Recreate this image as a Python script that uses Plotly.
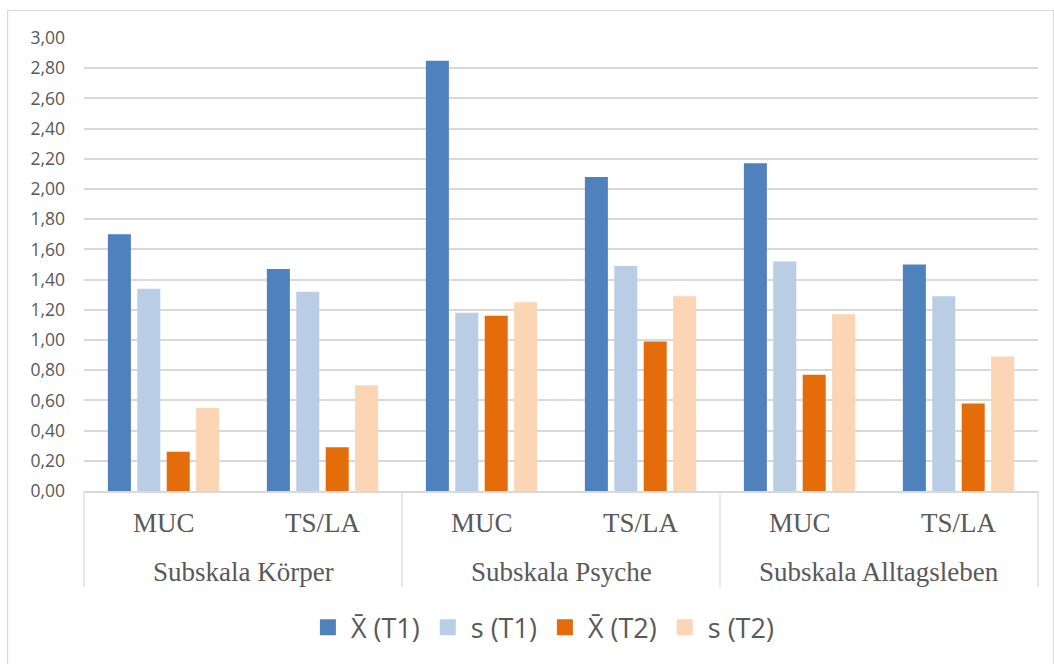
import plotly.graph_objects as go

# Subscales (outer level) and sites (inner level)
subscales = ["Subskala Körper", "Subskala Körper",
             "Subskala Psyche", "Subskala Psyche",
             "Subskala Alltagsleben", "Subskala Alltagsleben"]
sites = ["MUC", "TS/LA", "MUC", "TS/LA", "MUC", "TS/LA"]

# Means and standard deviations at T1 and T2
mean_t1 = [1.70, 1.47, 2.85, 2.08, 2.17, 1.50]
sd_t1 = [1.34, 1.32, 1.18, 1.49, 1.52, 1.29]
mean_t2 = [0.26, 0.29, 1.16, 0.99, 0.77, 0.58]
sd_t2 = [0.55, 0.70, 1.25, 1.29, 1.17, 0.89]

series_names = ["X\u0304 (T1)", "s (T1)", "X\u0304 (T2)", "s (T2)"]
series_values = [mean_t1, sd_t1, mean_t2, sd_t2]
series_colors = ["#4F81BD", "#B9CDE5", "#E46C0A", "#FCD5B5"]

GRID = "#D9D9D9"
TEXT = "#595959"
SERIF = "Liberation Serif"

fig = go.Figure()
for name, vals, color in zip(series_names, series_values, series_colors):
    fig.add_trace(go.Bar(
        x=[subscales, sites],
        y=vals,
        name=name,
        marker=dict(color=color, line=dict(width=0)),
        showlegend=False,
    ))

# Legend entries with larger square swatches
for name, color in zip(series_names, series_colors):
    fig.add_trace(go.Scatter(
        x=[None], y=[None], mode="markers", name=name,
        marker=dict(symbol="square", size=18, color=color),
        showlegend=True, hoverinfo="skip",
    ))

# Two-level category labels and group dividers below the axis
n = len(sites)
for i, site in enumerate(sites):
    fig.add_annotation(
        x=(i + 0.5) / n, y=-0.0706, xref="paper", yref="paper",
        text=site, showarrow=False, xanchor="center", yanchor="middle",
        font=dict(family=SERIF, size=27, color=TEXT),
    )

groups = []
for i, s in enumerate(subscales):
    if not groups or groups[-1][0] != s:
        groups.append([s, i, i])
    else:
        groups[-1][2] = i

for s, first, last in groups:
    fig.add_annotation(
        x=(first + last + 1) / 2 / n, y=-0.1788, xref="paper", yref="paper",
        text=s, showarrow=False, xanchor="center", yanchor="middle",
        font=dict(family=SERIF, size=27, color=TEXT),
    )

edges = [g[1] for g in groups] + [groups[-1][2] + 1]
for e in edges:
    fig.add_shape(
        type="line", xref="paper", yref="paper",
        x0=e / n, x1=e / n, y0=0, y1=-0.212,
        line=dict(color=GRID, width=1.2),
    )

# Outer chart frame
fig.add_shape(
    type="rect", xref="paper", yref="paper",
    x0=-0.0801, x1=1.0163, y0=-0.40, y1=1.0607,
    line=dict(color=GRID, width=1.2), fillcolor="rgba(0,0,0,0)", layer="below",
)

fig.update_layout(
    width=1054, height=664,
    margin=dict(l=84, r=16, t=38, b=173),
    paper_bgcolor="white", plot_bgcolor="white",
    separators=",.",
    barmode="group",
    bargap=0.26,
    bargroupgap=0.218,
    showlegend=True,
    legend=dict(
        orientation="h",
        x=0.48, xanchor="center",
        y=-0.302, yanchor="middle",
        font=dict(family="Open Sans", size=27, color=TEXT),
        itemwidth=36,
        traceorder="normal",
    ),
    xaxis=dict(
        type="multicategory",
        showticklabels=False,
        showline=True, linecolor=GRID, linewidth=1.5,
        showdividers=False,
        ticks="",
        showgrid=False,
    ),
    yaxis=dict(
        range=[0, 3.0],
        dtick=0.2,
        tickformat=".2f",
        showgrid=True, gridcolor=GRID, gridwidth=1.5,
        zeroline=False,
        showline=False,
        ticks="",
        ticklabelstandoff=18,
        tickfont=dict(family="Open Sans", size=17.5, color=TEXT),
    ),
)

fig.write_html("out.html")
